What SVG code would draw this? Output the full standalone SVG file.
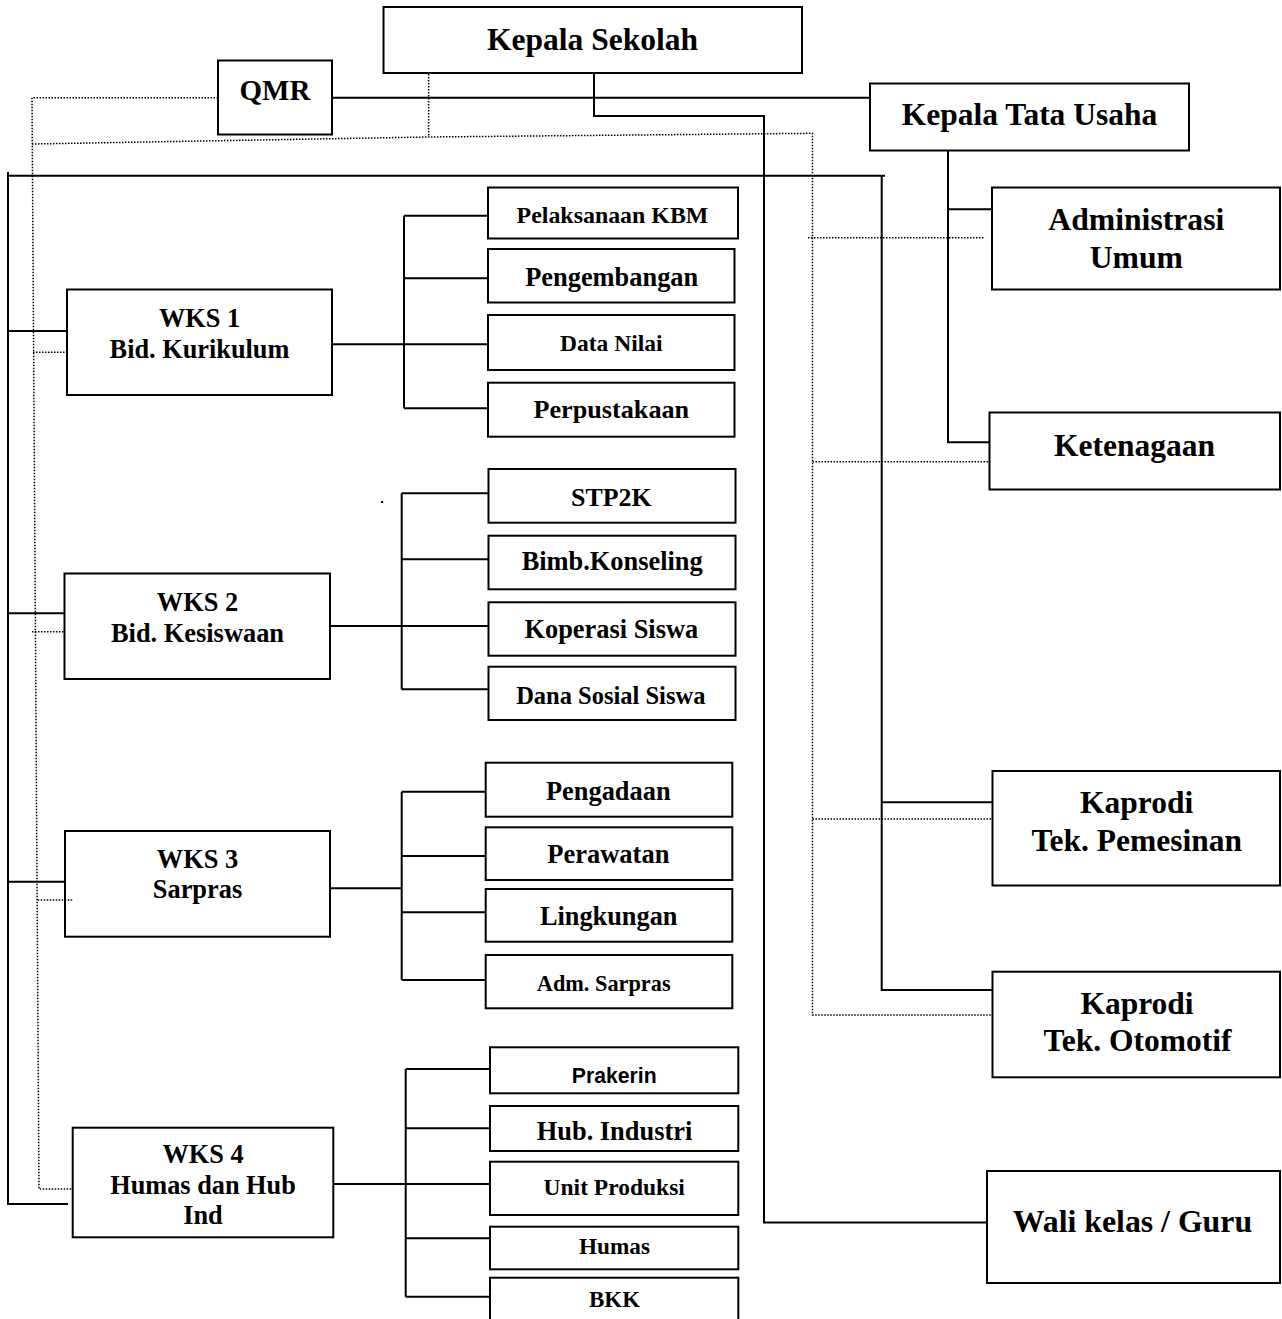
<svg xmlns="http://www.w3.org/2000/svg" width="1282" height="1319" viewBox="0 0 1282 1319">
<style>
.box{fill:#fff;stroke:#000;stroke-width:2}
.t{font-family:"Liberation Serif","Times New Roman",serif;font-weight:bold;text-anchor:middle;fill:#000}
.s{font-family:"Liberation Sans",Arial,sans-serif;font-weight:bold;text-anchor:middle;fill:#000}
.ln{fill:none;stroke:#000;stroke-width:2}
.dt{fill:none;stroke:#000;stroke-width:1.5;stroke-dasharray:1.5 1.5}
</style>
<rect width="1282" height="1319" fill="#fff"/>
<g id="kepala-sekolah"><rect class="box" x="383.5" y="7" width="418.5" height="66"/><text class="t" x="592.5" y="50" font-size="31.5">Kepala Sekolah</text></g>
<g id="qmr"><rect class="box" x="218" y="60.5" width="114" height="74"/><text class="t" x="275" y="100" font-size="29">QMR</text></g>
<g id="kepala-tata-usaha"><rect class="box" x="870" y="83.5" width="319" height="67"/><text class="t" x="1029.5" y="125" font-size="31.5">Kepala Tata Usaha</text></g>
<g id="administrasi-umum"><rect class="box" x="992" y="187.5" width="288" height="102"/><text class="t" x="1136.3" y="230" font-size="31.7">Administrasi</text><text class="t" x="1136.3" y="268" font-size="31.7">Umum</text></g>
<g id="ketenagaan"><rect class="box" x="989.5" y="412.5" width="290.5" height="77"/><text class="t" x="1134.5" y="456" font-size="31.5">Ketenagaan</text></g>
<g id="kaprodi-pemesinan"><rect class="box" x="992.5" y="771" width="287.5" height="114.5"/><text class="t" x="1136.7" y="812.7" font-size="31.5">Kaprodi</text><text class="t" x="1136.7" y="850.7" font-size="31.5">Tek. Pemesinan</text></g>
<g id="kaprodi-otomotif"><rect class="box" x="992.5" y="971.7" width="287.5" height="105.6"/><text class="t" x="1137" y="1014" font-size="31.5">Kaprodi</text><text class="t" x="1137.5" y="1050.7" font-size="31.5">Tek. Otomotif</text></g>
<g id="wali-kelas"><rect class="box" x="987" y="1171" width="293" height="112"/><text class="t" x="1132.4" y="1231.7" font-size="31.8">Wali kelas / Guru</text></g>
<g id="wks1"><rect class="box" x="67" y="289.5" width="265" height="105.5"/><text class="t" x="199.5" y="326.7" font-size="26.3">WKS 1</text><text class="t" x="199.5" y="358.3" font-size="26.3">Bid. Kurikulum</text></g>
<g id="wks2"><rect class="box" x="64.5" y="573.5" width="265.5" height="105.5"/><text class="t" x="197.5" y="611" font-size="26.4">WKS 2</text><text class="t" x="197.5" y="641.7" font-size="26.4">Bid. Kesiswaan</text></g>
<g id="wks3"><rect class="box" x="65" y="831" width="265" height="105.7"/><text class="t" x="197.5" y="867.7" font-size="26.4">WKS 3</text><text class="t" x="197.5" y="898.3" font-size="26.4">Sarpras</text></g>
<g id="wks4"><rect class="box" x="72.7" y="1127.7" width="260.6" height="109.6"/><text class="t" x="203" y="1163.3" font-size="26.3">WKS 4</text><text class="t" x="203" y="1194.3" font-size="26.3">Humas dan Hub</text><text class="t" x="203" y="1224.3" font-size="26.3">Ind</text></g>
<g id="pelaksanaan-kbm"><rect class="box" x="488" y="187.5" width="250" height="51"/><text class="t" x="612.5" y="223.3" font-size="23.9">Pelaksanaan KBM</text></g>
<g id="pengembangan"><rect class="box" x="488" y="249" width="246.5" height="53.5"/><text class="t" x="611.7" y="286" font-size="26.4">Pengembangan</text></g>
<g id="data-nilai"><rect class="box" x="488" y="315" width="246.5" height="55"/><text class="t" x="611.3" y="351" font-size="23.5">Data Nilai</text></g>
<g id="perpustakaan"><rect class="box" x="488" y="382.7" width="246.5" height="54"/><text class="t" x="611.3" y="418" font-size="26.2">Perpustakaan</text></g>
<g id="stp2k"><rect class="box" x="488.5" y="469" width="247" height="53.7"/><text class="t" x="611.3" y="505.7" font-size="25.9">STP2K</text></g>
<g id="bimb-konseling"><rect class="box" x="488.5" y="535.7" width="247" height="53.6"/><text class="t" x="612.2" y="570" font-size="26.4">Bimb.Konseling</text></g>
<g id="koperasi-siswa"><rect class="box" x="488.5" y="602.3" width="247" height="53.4"/><text class="t" x="611.3" y="638.3" font-size="26.4">Koperasi Siswa</text></g>
<g id="dana-sosial-siswa"><rect class="box" x="488.5" y="666.7" width="247" height="53.3"/><text class="t" x="610.8" y="704" font-size="24.5">Dana Sosial Siswa</text></g>
<g id="pengadaan"><rect class="box" x="485.7" y="762.7" width="246.6" height="54"/><text class="t" x="608.3" y="800" font-size="26.4">Pengadaan</text></g>
<g id="perawatan"><rect class="box" x="485.7" y="827.3" width="246.6" height="52.7"/><text class="t" x="608.3" y="863.3" font-size="26.5">Perawatan</text></g>
<g id="lingkungan"><rect class="box" x="485.7" y="889" width="246.6" height="52.7"/><text class="t" x="608.7" y="925" font-size="26.3">Lingkungan</text></g>
<g id="adm-sarpras"><rect class="box" x="485.7" y="955" width="246.6" height="53.3"/><text class="t" x="603.7" y="990.7" font-size="22.3">Adm. Sarpras</text></g>
<g id="prakerin"><rect class="box" x="490" y="1047.3" width="248.3" height="46"/><text class="s" x="614.2" y="1082.7" font-size="21.2">Prakerin</text></g>
<g id="hub-industri"><rect class="box" x="490" y="1106" width="248.3" height="45"/><text class="t" x="614.5" y="1140" font-size="26.4">Hub. Industri</text></g>
<g id="unit-produksi"><rect class="box" x="490" y="1161.7" width="248.3" height="53.3"/><text class="t" x="614.2" y="1195" font-size="23.5">Unit Produksi</text></g>
<g id="humas"><rect class="box" x="490" y="1226.7" width="248.3" height="42.6"/><text class="t" x="614.5" y="1254" font-size="23.2">Humas</text></g>
<g id="bkk"><rect class="box" x="490" y="1277.7" width="248.3" height="50"/><text class="t" x="614.5" y="1306.7" font-size="23">BKK</text></g>
<g id="connectors">
<path class="ln" d="M594,73 V116 H764 V1222.5 H987"/>
<path class="ln" d="M332,97.7 H870"/>
<path class="ln" d="M8,175.7 H885 M8,172 V1204 H68 M8,331 H67 M8,613.3 H64.5 M8,881.7 H65"/>
<path class="ln" d="M881.7,175.7 V990 H992.5 M881.7,802.3 H992.5"/>
<path class="ln" d="M948,150.5 V442.3 H989.5 M948,209.3 H992"/>
<path class="ln" d="M404,215.7 V408.3 M404,215.7 H488 M404,278.3 H488 M332,344.3 H488 M404,408.3 H488"/>
<path class="ln" d="M401.7,493.3 V689.3 M401.7,493.3 H488.5 M401.7,559.3 H488.5 M330,626 H488.5 M401.7,689.3 H488.5"/>
<path class="ln" d="M401.7,791.7 V980 M401.7,791.7 H485.7 M401.7,856 H485.7 M330,888.3 H401.7 M401.7,912.3 H485.7 M401.7,980 H485.7"/>
<path class="ln" d="M405.7,1069 V1296.7 M405.7,1069 H490 M405.7,1128.3 H490 M333.3,1184 H490 M405.7,1238.3 H490 M405.7,1296.7 H490"/>
<path class="dt" d="M218,97.7 H32 L39,1189 H72.7"/>
<path class="dt" d="M32,144 L428,137 L812.5,133.3 V1015 H992.5"/>
<path class="dt" d="M428.6,74 V137"/>
<path class="dt" d="M808,237.7 H985 M812.5,461.7 H989.5 M812.5,819 H992.5"/>
<path class="dt" d="M33,352.3 H67 M32,631.7 H64.5 M37.7,900 H73"/>
<rect x="381" y="501" width="2.2" height="2" fill="#000"/>
</g>
</svg>
